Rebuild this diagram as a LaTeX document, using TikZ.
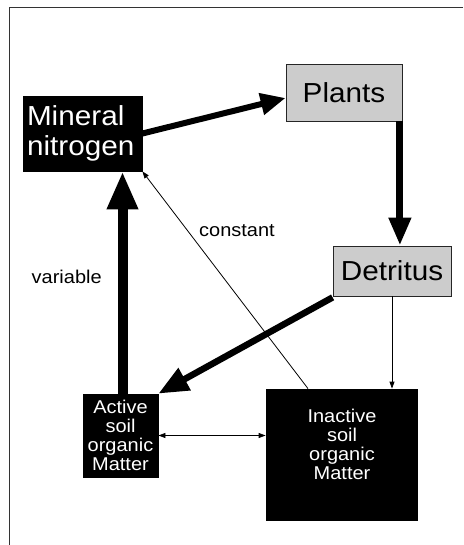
\documentclass[tikz,border=0pt]{standalone}
\usepackage{fontspec}
\setmainfont[FakeStretch=1.08]{Liberation Sans}
\usetikzlibrary{arrows.meta,calc}
\tikzset{
  blackbox/.style={draw=black,fill=black,text=white,line width=0.8pt,inner sep=0pt},
  graybox/.style={draw=black!85,fill=black!20,text=black,line width=0.8pt,inner sep=0pt},
  bigtxt/.style={font=\fontsize{27.5}{30}\selectfont},
  smalltxt/.style={font=\fontsize{18.5}{19}\selectfont,align=center},
  lbl/.style={font=\fontsize{18.5}{20}\selectfont,inner sep=0pt},
  thin/.style={line width=0.8pt,-{Triangle[length=7pt,width=5pt]}},
  thinboth/.style={line width=0.8pt,{Triangle[length=7pt,width=5pt]}-{Triangle[length=7pt,width=5pt]}},
}
\begin{document}
\begin{tikzpicture}[x=1pt,y=-1pt]
\useasboundingbox (0,0) rectangle (463,545);
\fill[white] (0,0) rectangle (463,545);
% frame
\coordinate (ftr) at (463,7.5);
\coordinate (ftl) at (9.5,7.5);
\coordinate (fbl) at (9.5,545);
\draw[line width=1.1pt,black!80] (ftr) -- (ftl) -- (fbl);
% nodes
\node[blackbox,bigtxt,align=left,text width=111pt,inner xsep=4pt,minimum height=75pt] (mn) at (82.5,133.5) {Mineral\\nitrogen};
\node[graybox,bigtxt,minimum width=116pt,minimum height=57pt] (pl) at (344,92.5) {Plants};
\node[graybox,bigtxt,minimum width=118pt,minimum height=50pt] (dt) at (392,271) {Detritus};
\node[blackbox,smalltxt,minimum width=75pt,minimum height=83pt] (ac) at (120.5,435.5) {Active\\soil\\organic\\Matter};
\node[blackbox,minimum width=151pt,minimum height=131pt] (in) at (341.5,454.5) {};
\node[smalltxt,text=white,inner sep=0pt] (intxt) at (342,444) {Inactive\\soil\\organic\\Matter};
% labels
\node[lbl] (lconst) at (237,231) {constant};
\node[lbl] (lvar) at (66.7,277) {variable};
% helper coordinates
\coordinate (plout) at ($(pl.south east)+(-2.5,0)$);
\coordinate (dtin) at (plout |- dt.north);
\coordinate (acout) at ($(ac.north)+(2,0)$);
\coordinate (mnin) at (acout |- mn.south);
\coordinate (plin) at ($(pl.west)+(0,5.5)$);
\coordinate (dtout) at ($(dt.south west)+(0,1)$);
\coordinate (inout) at ($(in.north)+(-33.5,0)$);
\coordinate (inin) at (dt.south |- in.north);
\coordinate (inw) at (in.west |- ac.east);
% thick arrows
\draw[line width=6pt,-{Triangle[length=25pt,width=21pt]}] (mn.east) -- (plin);
\draw[line width=7pt,-{Triangle[length=28pt,width=21pt]}] (plout) -- (dtin);
\draw[line width=6.5pt,-{Triangle[length=30pt,width=24pt]}] (dtout) -- (ac.north east);
\draw[line width=10pt,-{Triangle[length=38pt,width=29pt]}] (acout) -- (mnin);
% thin arrows
\draw[thin] (inout) -- (mn.south east);
\draw[thin] (dt.south) -- (inin);
\draw[thinboth] (ac.east) -- (inw);
\end{tikzpicture}
\end{document}
